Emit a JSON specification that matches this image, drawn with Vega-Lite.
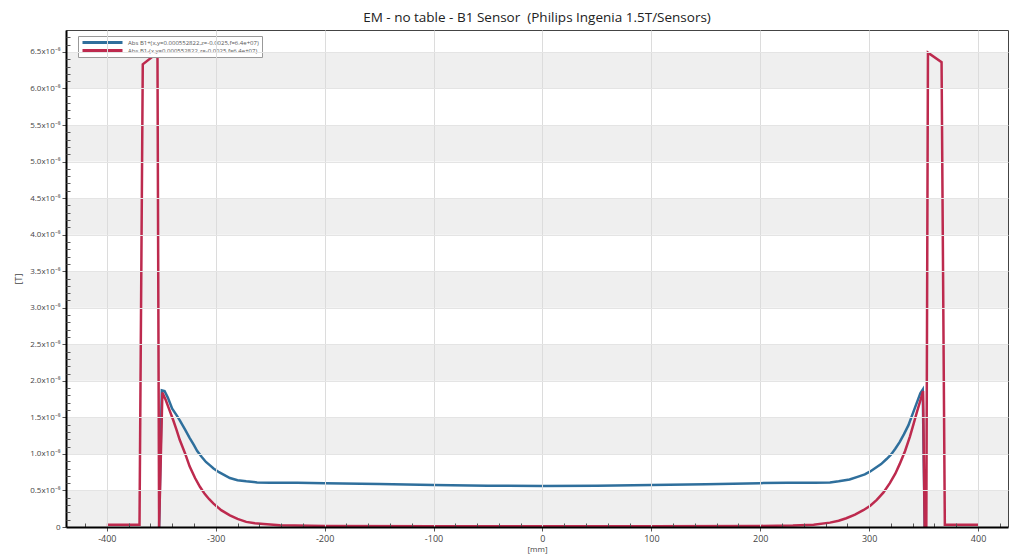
{
  "$schema": "https://vega.github.io/schema/vega-lite/v6.json",
  "autosize": "none",
  "width": 942,
  "height": 497,
  "padding": {"left": 66, "top": 30, "right": 3, "bottom": 28},
  "background": "white",
  "config": {
    "view": {"stroke": "#444", "strokeWidth": 1},
    "font": "Open Sans"
  },
  "title": {
    "text": "EM - no table - B1 Sensor \u00a0(Philips Ingenia 1.5T/Sensors)",
    "fontSize": 13.5,
    "fontWeight": "normal",
    "color": "#222",
    "font": "Open Sans",
    "anchor": "middle",
    "offset": 6
  },
  "resolve": {"axis": {"x": "independent", "y": "independent"}},
  "datasets": {
    "bands": [
      {"lo": 0, "hi": 0.5}, {"lo": 1, "hi": 1.5}, {"lo": 2, "hi": 2.5},
      {"lo": 3, "hi": 3.5}, {"lo": 4, "hi": 4.5}, {"lo": 5, "hi": 5.5}, {"lo": 6, "hi": 6.5}
    ],
    "curves": [
      {"s": "Abs B1+(x,y=0.000552822,z=-0.0025,f=6.4e+07)", "x": -352, "y": 0},
      {"s": "Abs B1+(x,y=0.000552822,z=-0.0025,f=6.4e+07)", "x": -349.5, "y": 1.87},
      {"s": "Abs B1+(x,y=0.000552822,z=-0.0025,f=6.4e+07)", "x": -347, "y": 1.86},
      {"s": "Abs B1+(x,y=0.000552822,z=-0.0025,f=6.4e+07)", "x": -344, "y": 1.77},
      {"s": "Abs B1+(x,y=0.000552822,z=-0.0025,f=6.4e+07)", "x": -340, "y": 1.62},
      {"s": "Abs B1+(x,y=0.000552822,z=-0.0025,f=6.4e+07)", "x": -336, "y": 1.53},
      {"s": "Abs B1+(x,y=0.000552822,z=-0.0025,f=6.4e+07)", "x": -333, "y": 1.46},
      {"s": "Abs B1+(x,y=0.000552822,z=-0.0025,f=6.4e+07)", "x": -328, "y": 1.33},
      {"s": "Abs B1+(x,y=0.000552822,z=-0.0025,f=6.4e+07)", "x": -324, "y": 1.22},
      {"s": "Abs B1+(x,y=0.000552822,z=-0.0025,f=6.4e+07)", "x": -320, "y": 1.12},
      {"s": "Abs B1+(x,y=0.000552822,z=-0.0025,f=6.4e+07)", "x": -317, "y": 1.04},
      {"s": "Abs B1+(x,y=0.000552822,z=-0.0025,f=6.4e+07)", "x": -313, "y": 0.96},
      {"s": "Abs B1+(x,y=0.000552822,z=-0.0025,f=6.4e+07)", "x": -309, "y": 0.89},
      {"s": "Abs B1+(x,y=0.000552822,z=-0.0025,f=6.4e+07)", "x": -305, "y": 0.84},
      {"s": "Abs B1+(x,y=0.000552822,z=-0.0025,f=6.4e+07)", "x": -302, "y": 0.80},
      {"s": "Abs B1+(x,y=0.000552822,z=-0.0025,f=6.4e+07)", "x": -297, "y": 0.75},
      {"s": "Abs B1+(x,y=0.000552822,z=-0.0025,f=6.4e+07)", "x": -292, "y": 0.71},
      {"s": "Abs B1+(x,y=0.000552822,z=-0.0025,f=6.4e+07)", "x": -287, "y": 0.67},
      {"s": "Abs B1+(x,y=0.000552822,z=-0.0025,f=6.4e+07)", "x": -280, "y": 0.64},
      {"s": "Abs B1+(x,y=0.000552822,z=-0.0025,f=6.4e+07)", "x": -272, "y": 0.625},
      {"s": "Abs B1+(x,y=0.000552822,z=-0.0025,f=6.4e+07)", "x": -262, "y": 0.61},
      {"s": "Abs B1+(x,y=0.000552822,z=-0.0025,f=6.4e+07)", "x": -250, "y": 0.605},
      {"s": "Abs B1+(x,y=0.000552822,z=-0.0025,f=6.4e+07)", "x": -225, "y": 0.605},
      {"s": "Abs B1+(x,y=0.000552822,z=-0.0025,f=6.4e+07)", "x": -200, "y": 0.60},
      {"s": "Abs B1+(x,y=0.000552822,z=-0.0025,f=6.4e+07)", "x": -150, "y": 0.59},
      {"s": "Abs B1+(x,y=0.000552822,z=-0.0025,f=6.4e+07)", "x": -100, "y": 0.575},
      {"s": "Abs B1+(x,y=0.000552822,z=-0.0025,f=6.4e+07)", "x": -50, "y": 0.565},
      {"s": "Abs B1+(x,y=0.000552822,z=-0.0025,f=6.4e+07)", "x": 0, "y": 0.56},
      {"s": "Abs B1+(x,y=0.000552822,z=-0.0025,f=6.4e+07)", "x": 50, "y": 0.565},
      {"s": "Abs B1+(x,y=0.000552822,z=-0.0025,f=6.4e+07)", "x": 100, "y": 0.575},
      {"s": "Abs B1+(x,y=0.000552822,z=-0.0025,f=6.4e+07)", "x": 150, "y": 0.585},
      {"s": "Abs B1+(x,y=0.000552822,z=-0.0025,f=6.4e+07)", "x": 200, "y": 0.60},
      {"s": "Abs B1+(x,y=0.000552822,z=-0.0025,f=6.4e+07)", "x": 225, "y": 0.605},
      {"s": "Abs B1+(x,y=0.000552822,z=-0.0025,f=6.4e+07)", "x": 250, "y": 0.605},
      {"s": "Abs B1+(x,y=0.000552822,z=-0.0025,f=6.4e+07)", "x": 264, "y": 0.61},
      {"s": "Abs B1+(x,y=0.000552822,z=-0.0025,f=6.4e+07)", "x": 272, "y": 0.625},
      {"s": "Abs B1+(x,y=0.000552822,z=-0.0025,f=6.4e+07)", "x": 282, "y": 0.65},
      {"s": "Abs B1+(x,y=0.000552822,z=-0.0025,f=6.4e+07)", "x": 290, "y": 0.69},
      {"s": "Abs B1+(x,y=0.000552822,z=-0.0025,f=6.4e+07)", "x": 296, "y": 0.72},
      {"s": "Abs B1+(x,y=0.000552822,z=-0.0025,f=6.4e+07)", "x": 301, "y": 0.76},
      {"s": "Abs B1+(x,y=0.000552822,z=-0.0025,f=6.4e+07)", "x": 306, "y": 0.81},
      {"s": "Abs B1+(x,y=0.000552822,z=-0.0025,f=6.4e+07)", "x": 311, "y": 0.86},
      {"s": "Abs B1+(x,y=0.000552822,z=-0.0025,f=6.4e+07)", "x": 316, "y": 0.93},
      {"s": "Abs B1+(x,y=0.000552822,z=-0.0025,f=6.4e+07)", "x": 320, "y": 0.99},
      {"s": "Abs B1+(x,y=0.000552822,z=-0.0025,f=6.4e+07)", "x": 324, "y": 1.07},
      {"s": "Abs B1+(x,y=0.000552822,z=-0.0025,f=6.4e+07)", "x": 328, "y": 1.16},
      {"s": "Abs B1+(x,y=0.000552822,z=-0.0025,f=6.4e+07)", "x": 332, "y": 1.27},
      {"s": "Abs B1+(x,y=0.000552822,z=-0.0025,f=6.4e+07)", "x": 336, "y": 1.39},
      {"s": "Abs B1+(x,y=0.000552822,z=-0.0025,f=6.4e+07)", "x": 339, "y": 1.51},
      {"s": "Abs B1+(x,y=0.000552822,z=-0.0025,f=6.4e+07)", "x": 342, "y": 1.63},
      {"s": "Abs B1+(x,y=0.000552822,z=-0.0025,f=6.4e+07)", "x": 345, "y": 1.75},
      {"s": "Abs B1+(x,y=0.000552822,z=-0.0025,f=6.4e+07)", "x": 347, "y": 1.83},
      {"s": "Abs B1+(x,y=0.000552822,z=-0.0025,f=6.4e+07)", "x": 349.2, "y": 1.88},
      {"s": "Abs B1+(x,y=0.000552822,z=-0.0025,f=6.4e+07)", "x": 351, "y": 0},
      {"s": "Abs B1-(x,y=0.000552822,z=-0.0025,f=6.4e+07)", "x": -400, "y": 0.03},
      {"s": "Abs B1-(x,y=0.000552822,z=-0.0025,f=6.4e+07)", "x": -370, "y": 0.03},
      {"s": "Abs B1-(x,y=0.000552822,z=-0.0025,f=6.4e+07)", "x": -367, "y": 6.33},
      {"s": "Abs B1-(x,y=0.000552822,z=-0.0025,f=6.4e+07)", "x": -355, "y": 6.47},
      {"s": "Abs B1-(x,y=0.000552822,z=-0.0025,f=6.4e+07)", "x": -353.5, "y": 6.45},
      {"s": "Abs B1-(x,y=0.000552822,z=-0.0025,f=6.4e+07)", "x": -352, "y": 0},
      {"s": "Abs B1-(x,y=0.000552822,z=-0.0025,f=6.4e+07)", "x": -349, "y": 1.84},
      {"s": "Abs B1-(x,y=0.000552822,z=-0.0025,f=6.4e+07)", "x": -346, "y": 1.74},
      {"s": "Abs B1-(x,y=0.000552822,z=-0.0025,f=6.4e+07)", "x": -343, "y": 1.62},
      {"s": "Abs B1-(x,y=0.000552822,z=-0.0025,f=6.4e+07)", "x": -339, "y": 1.46},
      {"s": "Abs B1-(x,y=0.000552822,z=-0.0025,f=6.4e+07)", "x": -336, "y": 1.33},
      {"s": "Abs B1-(x,y=0.000552822,z=-0.0025,f=6.4e+07)", "x": -333, "y": 1.19},
      {"s": "Abs B1-(x,y=0.000552822,z=-0.0025,f=6.4e+07)", "x": -328, "y": 1.0},
      {"s": "Abs B1-(x,y=0.000552822,z=-0.0025,f=6.4e+07)", "x": -324, "y": 0.83},
      {"s": "Abs B1-(x,y=0.000552822,z=-0.0025,f=6.4e+07)", "x": -319, "y": 0.67},
      {"s": "Abs B1-(x,y=0.000552822,z=-0.0025,f=6.4e+07)", "x": -314.5, "y": 0.55},
      {"s": "Abs B1-(x,y=0.000552822,z=-0.0025,f=6.4e+07)", "x": -310, "y": 0.45},
      {"s": "Abs B1-(x,y=0.000552822,z=-0.0025,f=6.4e+07)", "x": -306, "y": 0.38},
      {"s": "Abs B1-(x,y=0.000552822,z=-0.0025,f=6.4e+07)", "x": -302, "y": 0.32},
      {"s": "Abs B1-(x,y=0.000552822,z=-0.0025,f=6.4e+07)", "x": -295, "y": 0.23},
      {"s": "Abs B1-(x,y=0.000552822,z=-0.0025,f=6.4e+07)", "x": -287, "y": 0.16},
      {"s": "Abs B1-(x,y=0.000552822,z=-0.0025,f=6.4e+07)", "x": -280, "y": 0.11},
      {"s": "Abs B1-(x,y=0.000552822,z=-0.0025,f=6.4e+07)", "x": -272, "y": 0.07},
      {"s": "Abs B1-(x,y=0.000552822,z=-0.0025,f=6.4e+07)", "x": -264, "y": 0.05},
      {"s": "Abs B1-(x,y=0.000552822,z=-0.0025,f=6.4e+07)", "x": -256, "y": 0.04},
      {"s": "Abs B1-(x,y=0.000552822,z=-0.0025,f=6.4e+07)", "x": -241, "y": 0.025},
      {"s": "Abs B1-(x,y=0.000552822,z=-0.0025,f=6.4e+07)", "x": -200, "y": 0.015},
      {"s": "Abs B1-(x,y=0.000552822,z=-0.0025,f=6.4e+07)", "x": -100, "y": 0.01},
      {"s": "Abs B1-(x,y=0.000552822,z=-0.0025,f=6.4e+07)", "x": 0, "y": 0.01},
      {"s": "Abs B1-(x,y=0.000552822,z=-0.0025,f=6.4e+07)", "x": 100, "y": 0.01},
      {"s": "Abs B1-(x,y=0.000552822,z=-0.0025,f=6.4e+07)", "x": 200, "y": 0.015},
      {"s": "Abs B1-(x,y=0.000552822,z=-0.0025,f=6.4e+07)", "x": 230, "y": 0.02},
      {"s": "Abs B1-(x,y=0.000552822,z=-0.0025,f=6.4e+07)", "x": 249, "y": 0.03},
      {"s": "Abs B1-(x,y=0.000552822,z=-0.0025,f=6.4e+07)", "x": 264, "y": 0.06},
      {"s": "Abs B1-(x,y=0.000552822,z=-0.0025,f=6.4e+07)", "x": 272, "y": 0.085},
      {"s": "Abs B1-(x,y=0.000552822,z=-0.0025,f=6.4e+07)", "x": 279, "y": 0.12},
      {"s": "Abs B1-(x,y=0.000552822,z=-0.0025,f=6.4e+07)", "x": 287, "y": 0.17},
      {"s": "Abs B1-(x,y=0.000552822,z=-0.0025,f=6.4e+07)", "x": 294.6, "y": 0.23},
      {"s": "Abs B1-(x,y=0.000552822,z=-0.0025,f=6.4e+07)", "x": 301, "y": 0.29},
      {"s": "Abs B1-(x,y=0.000552822,z=-0.0025,f=6.4e+07)", "x": 307, "y": 0.37},
      {"s": "Abs B1-(x,y=0.000552822,z=-0.0025,f=6.4e+07)", "x": 313, "y": 0.47},
      {"s": "Abs B1-(x,y=0.000552822,z=-0.0025,f=6.4e+07)", "x": 319, "y": 0.60},
      {"s": "Abs B1-(x,y=0.000552822,z=-0.0025,f=6.4e+07)", "x": 324, "y": 0.73},
      {"s": "Abs B1-(x,y=0.000552822,z=-0.0025,f=6.4e+07)", "x": 328, "y": 0.86},
      {"s": "Abs B1-(x,y=0.000552822,z=-0.0025,f=6.4e+07)", "x": 333, "y": 1.04},
      {"s": "Abs B1-(x,y=0.000552822,z=-0.0025,f=6.4e+07)", "x": 337.5, "y": 1.24},
      {"s": "Abs B1-(x,y=0.000552822,z=-0.0025,f=6.4e+07)", "x": 341, "y": 1.42},
      {"s": "Abs B1-(x,y=0.000552822,z=-0.0025,f=6.4e+07)", "x": 344, "y": 1.58},
      {"s": "Abs B1-(x,y=0.000552822,z=-0.0025,f=6.4e+07)", "x": 347, "y": 1.73},
      {"s": "Abs B1-(x,y=0.000552822,z=-0.0025,f=6.4e+07)", "x": 349.5, "y": 1.86},
      {"s": "Abs B1-(x,y=0.000552822,z=-0.0025,f=6.4e+07)", "x": 351, "y": 0},
      {"s": "Abs B1-(x,y=0.000552822,z=-0.0025,f=6.4e+07)", "x": 352.5, "y": 0},
      {"s": "Abs B1-(x,y=0.000552822,z=-0.0025,f=6.4e+07)", "x": 354, "y": 6.49},
      {"s": "Abs B1-(x,y=0.000552822,z=-0.0025,f=6.4e+07)", "x": 366.5, "y": 6.36},
      {"s": "Abs B1-(x,y=0.000552822,z=-0.0025,f=6.4e+07)", "x": 369.5, "y": 0.03},
      {"s": "Abs B1-(x,y=0.000552822,z=-0.0025,f=6.4e+07)", "x": 400, "y": 0.03}
    ]
  },
  "layer": [
    {
      "data": {"name": "bands"},
      "mark": {"type": "rect", "color": "#efefef"},
      "encoding": {
        "y": {
          "field": "lo", "type": "quantitative",
          "scale": {"domain": [0, 6.8], "nice": false, "zero": false},
          "axis": {
            "orient": "left",
            "title": "[T]",
            "titleFontSize": 9,
            "titleFontWeight": "normal",
            "titleColor": "#444",
            "titlePadding": 6,
            "values": [0, 0.5, 1, 1.5, 2, 2.5, 3, 3.5, 4, 4.5, 5, 5.5, 6, 6.5],
            "labelExpr": "datum.value == 0 ? '0' : format(datum.value, '.1f') + 'x10⁻⁸'",
            "labelOverlap": false,
            "labelFontSize": 8,
            "labelColor": "#444",
            "labelPadding": 2,
            "domainColor": "#000",
            "domainWidth": 2,
            "tickColor": "#555",
            "tickSize": 4,
            "grid": true,
            "gridColor": "#e4e4e4",
            "zindex": 1
          }
        },
        "y2": {"field": "hi"}
      }
    },
    {
      "data": {"name": "curves"},
      "mark": {"type": "point", "opacity": 0},
      "encoding": {
        "x": {
          "field": "x", "type": "quantitative",
          "scale": {"domain": [-437.5, 427.5], "nice": false, "zero": false},
          "axis": {
            "orient": "bottom",
            "title": null,
            "values": [-420,-380,-360,-340,-320,-280,-260,-240,-220,-180,-160,-140,-120,-80,-60,-40,-20,20,40,60,80,120,140,160,180,220,240,260,280,320,340,360,380,420],
            "labels": false,
            "domain": false,
            "grid": false,
            "tickColor": "#555",
            "tickSize": -4,
            "zindex": 1
          }
        },
        "y": {
          "field": "y", "type": "quantitative",
          "scale": {"domain": [0, 6.8], "nice": false, "zero": false},
          "axis": {
            "orient": "left",
            "title": null,
            "values": [0.1,0.2,0.3,0.4,0.6,0.7,0.8,0.9,1.1,1.2,1.3,1.4,1.6,1.7,1.8,1.9,2.1,2.2,2.3,2.4,2.6,2.7,2.8,2.9,3.1,3.2,3.3,3.4,3.6,3.7,3.8,3.9,4.1,4.2,4.3,4.4,4.6,4.7,4.8,4.9,5.1,5.2,5.3,5.4,5.6,5.7,5.8,5.9,6.1,6.2,6.3,6.4,6.6,6.7],
            "labels": false,
            "domain": false,
            "grid": false,
            "tickColor": "#555",
            "tickSize": -4,
            "zindex": 1
          }
        }
      }
    },
    {
      "data": {"name": "curves"},
      "mark": {"type": "line", "strokeWidth": 2.5, "clip": true, "strokeJoin": "miter"},
      "encoding": {
        "x": {
          "field": "x", "type": "quantitative",
          "scale": {"domain": [-437.5, 427.5], "nice": false, "zero": false},
          "axis": {
            "orient": "bottom",
            "title": "[mm]",
            "titleFontSize": 8,
            "titleFontWeight": "normal",
            "titleColor": "#444",
            "titlePadding": 2,
            "values": [-400, -300, -200, -100, 0, 100, 200, 300, 400],
            "labelExpr": "datum.value < 0 ? '-' + abs(datum.value) : '' + datum.value",
            "labelOverlap": false,
            "labelFontSize": 9,
            "labelColor": "#444",
            "labelPadding": 3,
            "domainColor": "#000",
            "domainWidth": 2,
            "tickColor": "#555",
            "tickSize": 4,
            "grid": true,
            "gridColor": "#dcdcdc",
            "zindex": 1
          }
        },
        "y": {
          "field": "y", "type": "quantitative",
          "scale": {"domain": [0, 6.8], "nice": false, "zero": false},
          "axis": null
        },
        "color": {
          "field": "s", "type": "nominal",
          "scale": {"range": ["#2f6f9c", "#bd2a4e"]},
          "legend": {
            "title": null,
            "orient": "none",
            "legendX": 12,
            "legendY": 6,
            "direction": "vertical",
            "symbolType": "stroke",
            "symbolSize": 1600,
            "symbolStrokeWidth": 3,
            "clipHeight": 7,
            "labelFontSize": 6,
            "labelColor": "#555",
            "labelLimit": 400,
            "rowPadding": 1,
            "padding": 3,
            "offset": 0,
            "fillColor": "white",
            "strokeColor": "#999"
          }
        }
      }
    }
  ]
}
